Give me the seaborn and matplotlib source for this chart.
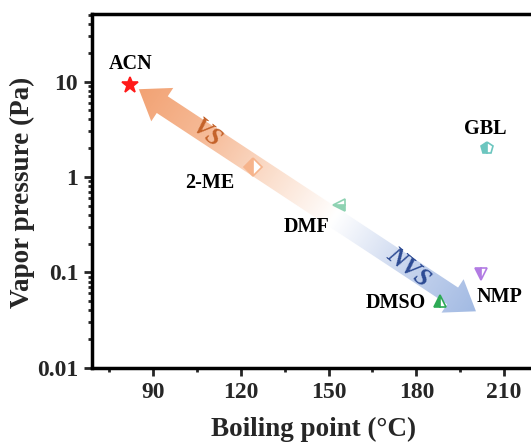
import numpy as np
import pandas as pd
import matplotlib
matplotlib.use("Agg")
import matplotlib.pyplot as plt
import seaborn as sns
from matplotlib.patches import Polygon
from matplotlib.colors import LinearSegmentedColormap
from matplotlib.ticker import FixedLocator, LogLocator, NullFormatter, MultipleLocator

# ---------------- data ----------------
solvents = ["ACN", "2-ME", "DMF", "GBL", "NMP", "DMSO"]
boiling_point = [82.0, 124.2, 153.4, 204.1, 202.0, 188.2]
vapor_pressure = [9.3, 1.27, 0.51, 2.01, 0.095, 0.050]
marker_shapes = ["*", "D", "<", "p", "v", "^"]
fill_styles = ["full", "left", "bottom", "left", "left", "left"]
marker_colors = ["#FF1A1A", "#F6B48C", "#8ED2B2", "#6CC6BF", "#B27BE3", "#2DAA55"]
label_offsets = [(1, 21), (-43, -16), (-32, -22), (-2, 19), (19, -23), (-44, -2)]
x_ticks = [90, 120, 150, 180, 210]
y_ticks = [0.01, 0.1, 1, 10]
y_ticklabels = ["0.01", "0.1", "1", "10"]
arrow_tip_vs = (85.1, 8.3)      # upper-left arrow tip (data)
arrow_tip_nvs = (200.4, 0.039)  # lower-right arrow tip (data)
arrow_texts = ["VS", "NVS"]
arrow_text_pos = [0.2, 0.8]
arrow_text_colors = ["#C4622A", "#2D4B94"]

df = pd.DataFrame({"solvent": solvents, "bp": boiling_point, "vp": vapor_pressure})

# ---------------- style ----------------
sns.set_style("ticks")
plt.rcParams["font.family"] = ["Liberation Serif", "DejaVu Serif"]
plt.rcParams["font.weight"] = "bold"
plt.rcParams["axes.labelweight"] = "bold"

W, H = 531, 444
fig = plt.figure(figsize=(W / 100, H / 100), dpi=100)
ax_bg = fig.add_axes([0, 0, 1, 1], zorder=0)
ax_left, ax_right, ax_top, ax_bottom = 92.1, 562.5, 14.0, 367.7
ax = fig.add_axes([ax_left / W, (H - ax_bottom) / H, (ax_right - ax_left) / W,
                   (ax_bottom - ax_top) / H], zorder=1)
ax.patch.set_alpha(0)

ax.set_yscale("log")
ax.set_xlim(69.1, 230)
ax.set_ylim(0.01, 51)

# ---------------- markers ----------------
for i, row in df.iterrows():
    sns.lineplot(x=[row["bp"]], y=[row["vp"]], ax=ax, marker=marker_shapes[i],
                 fillstyle=fill_styles[i], color=marker_colors[i],
                 markerfacecoloralt="white", markeredgecolor=marker_colors[i],
                 markeredgewidth=1.2, markersize=12 if marker_shapes[i] == "*" else 9,
                 linestyle="", legend=False)
    ax.annotate(row["solvent"], (row["bp"], row["vp"]), xytext=label_offsets[i],
                textcoords="offset pixels", ha="center", va="center",
                fontsize=14.5, fontweight="bold", color="black")

# ---------------- gradient double arrow ----------------
p0 = np.array(ax.transData.transform(arrow_tip_vs))
p1 = np.array(ax.transData.transform(arrow_tip_nvs))
L = np.linalg.norm(p1 - p0)
d = (p1 - p0) / L
n = np.array([-d[1], d[0]])
hl, hw, sw = 28, 20, 10
poly = [p0,
        p0 + d * hl + n * hw, p0 + d * hl + n * sw,
        p1 - d * hl + n * sw, p1 - d * hl + n * hw,
        p1,
        p1 - d * hl - n * hw, p1 - d * hl - n * sw,
        p0 + d * hl - n * sw, p0 + d * hl - n * hw]
ax_bg.set_xlim(0, W)
ax_bg.set_ylim(0, H)
ax_bg.axis("off")
xx, yy = np.meshgrid(np.arange(W) + 0.5, np.arange(H) + 0.5)
tt = ((xx - p0[0]) * d[0] + (yy - p0[1]) * d[1]) / L
cmap = LinearSegmentedColormap.from_list(
    "vsnvs", [(0, "#F2A273"), (0.2, "#F6BB98"), (0.4, "#FBE0CF"), (0.58, "#FFFFFF"),
              (0.8, "#C8D5EE"), (1, "#A2BAE3")])
im = ax_bg.imshow(np.clip(tt, 0, 1), cmap=cmap, vmin=0, vmax=1, origin="lower",
                  extent=(0, W, 0, H), aspect="auto", interpolation="bilinear")
patch = Polygon(poly, closed=True, facecolor="none", edgecolor="none")
ax_bg.add_patch(patch)
im.set_clip_path(patch)

for txt, t, c in zip(arrow_texts, arrow_text_pos, arrow_text_colors):
    pt = p0 + d * L * t
    ax_bg.text(pt[0], pt[1], txt, color=c, fontsize=18, fontstyle="italic",
               fontweight="bold", rotation=-39, ha="center", va="center",
               rotation_mode="anchor")

# ---------------- axes ----------------
ax.xaxis.set_major_locator(FixedLocator(x_ticks))
ax.xaxis.set_minor_locator(MultipleLocator(15))
ax.yaxis.set_major_locator(FixedLocator(y_ticks))
ax.set_yticklabels(y_ticklabels)
ax.yaxis.set_minor_locator(LogLocator(base=10, subs=np.arange(2, 10)))
ax.yaxis.set_minor_formatter(NullFormatter())
ax.tick_params(which="major", direction="out", length=6, width=2, labelsize=17, pad=4)
ax.tick_params(which="minor", direction="out", length=3, width=2)
for lbl in ax.get_xticklabels() + ax.get_yticklabels():
    lbl.set_fontweight("bold")
for s in ["left", "bottom", "top", "right"]:
    ax.spines[s].set_linewidth(2.5)
    ax.spines[s].set_color("black")

aw, ah = ax_right - ax_left, ax_bottom - ax_top
ax.set_xlabel("Boiling point (°C)", fontsize=19.5, fontweight="bold")
ax.set_ylabel("Vapor pressure (Pa)", fontsize=19.5, fontweight="bold")
ax.xaxis.set_label_coords((314 - ax_left) / aw, -(429 - ax_bottom) / ah)
ax.xaxis.label.set_verticalalignment("center")
ax.yaxis.set_label_coords(-(ax_left - 35) / aw, (ax_bottom - 192) / ah)

fig.savefig("out.png", dpi=100)
